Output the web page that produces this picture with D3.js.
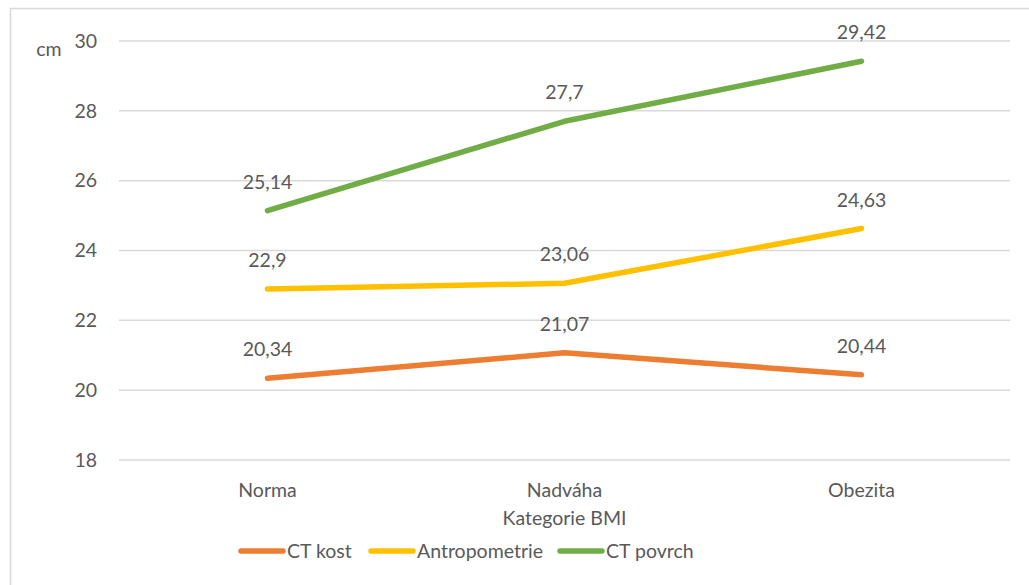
<!DOCTYPE html>
<html><head><meta charset="utf-8">
<script src="https://cdn.jsdelivr.net/npm/d3@7"></script>
<style>
body{margin:0;background:#fff;}
text{font-family:"Lato","Open Sans",sans-serif;fill:#595959;}
</style></head>
<body><svg id="c" width="1029" height="585"></svg>
<script>
const categories = ["Norma","Nadváha","Obezita"];
const seriesNames = ["CT kost","Antropometrie","CT povrch"];
const ctKost = [20.34, 21.07, 20.44];
const antropometrie = [22.9, 23.06, 24.63];
const ctPovrch = [25.14, 27.7, 29.42];
const yTicks = [18,20,22,24,26,28,30];
const colors = ["#ED7D31","#FFC000","#70AD47"];
const seriesVals = [ctKost, antropometrie, ctPovrch];

const svg = d3.select("#c");
// outer frame
svg.append("rect").attr("x",10.5).attr("y",8.5).attr("width",1040).attr("height",600)
  .attr("fill","none").attr("stroke","#d9d9d9").attr("stroke-width",1.5);

const x = d3.scaleBand().domain(categories).range([119,1010]);
const y = d3.scaleLinear().domain([18,30]).range([460,41]);

// gridlines
svg.append("g").selectAll("line").data(yTicks).join("line")
  .attr("x1",119).attr("x2",1010).attr("y1",d=>y(d)).attr("y2",d=>y(d))
  .attr("stroke","#d9d9d9").attr("stroke-width",1.5);

// y axis labels
const yAxis = d3.axisLeft(y).tickValues(yTicks).tickSize(0).tickPadding(0);
const ga = svg.append("g").attr("transform","translate(97,0)").call(yAxis);
ga.select(".domain").remove();
ga.selectAll("text").style("font-size","19.5px").attr("fill","#595959").attr("font-family","Lato, sans-serif");

svg.append("text").attr("x",49).attr("y",56).attr("text-anchor","middle").style("font-size","19.5px").text("cm");

// x axis labels
const xAxis = d3.axisBottom(x).tickSize(0).tickPadding(0);
const gx = svg.append("g").attr("transform","translate(0,483)").call(xAxis);
gx.select(".domain").remove();
gx.selectAll("text").style("font-size","19.5px").attr("fill","#595959").attr("font-family","Lato, sans-serif");

svg.append("text").attr("x",564.5).attr("y",525).attr("text-anchor","middle").style("font-size","19.5px").text("Kategorie BMI");

const cx = d => x(d)+x.bandwidth()/2;
const line = d3.line().x((d,i)=>cx(categories[i])).y(d=>y(d));

seriesVals.forEach((vals,si)=>{
  svg.append("path").attr("d",line(vals)).attr("fill","none")
    .attr("stroke",colors[si]).attr("stroke-width",5.5).attr("stroke-linecap","round").attr("stroke-linejoin","round");
});
seriesVals.forEach((vals,si)=>{
  svg.append("g").selectAll("text").data(vals).join("text")
    .attr("x",(d,i)=>cx(categories[i])).attr("y",d=>y(d)-22)
    .attr("text-anchor","middle").style("font-size","19.5px").attr("fill","#404040")
    .text(d=>String(d).replace(".",","));
});

// legend
const legX = [241,371,560];
seriesNames.forEach((n,i)=>{
  svg.append("line").attr("x1",legX[i]).attr("x2",legX[i]+42).attr("y1",551).attr("y2",551)
    .attr("stroke",colors[i]).attr("stroke-width",5.5).attr("stroke-linecap","round");
  svg.append("text").attr("x",legX[i]+46).attr("y",558).style("font-size","19.5px").text(n);
});
</script></body></html>
